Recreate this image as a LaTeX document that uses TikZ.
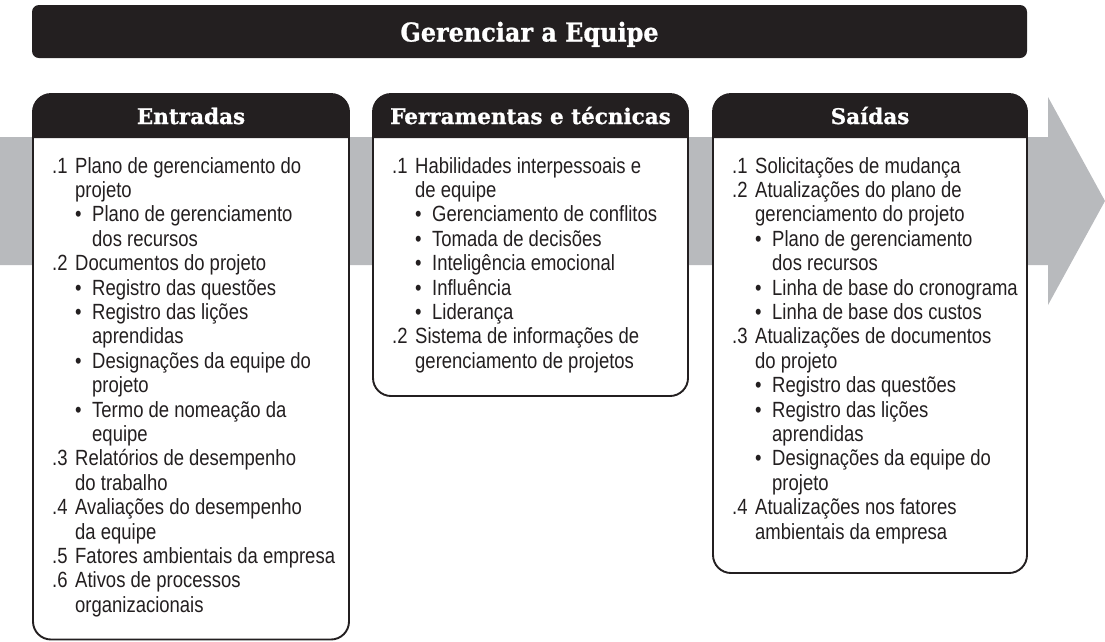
\documentclass[tikz,border=0pt]{standalone}
\usepackage{fontspec}
\setmainfont{Liberation Sans}[FakeStretch=0.84]
\newfontfamily\hdfont{DejaVu Serif}[BoldFeatures={FakeBold=0.9}]
\newfontfamily\ttlfont{DejaVu Serif}[BoldFeatures={FakeBold=0.9, FakeStretch=0.92}]
\definecolor{hdblack}{RGB}{35,31,32}
\definecolor{arrowgray}{RGB}{184,186,189}
\newcommand\numlab[1]{\makebox[23pt][l]{#1}}
\newcommand\bulmark{\makebox[17pt][l]{•}}
\tikzset{
  panel/.style={draw=hdblack, line width=1.9pt, rounded corners=18pt},
  band/.style={fill=hdblack},
  hdtext/.style={anchor=base, inner sep=0pt, text=white, font=\hdfont\bfseries\fontsize{21.5pt}{24pt}\selectfont},
  titletext/.style={anchor=base, inner sep=0pt, text=white, font=\ttlfont\bfseries\fontsize{26pt}{30pt}\selectfont},
  tline/.style={anchor=base west, inner sep=0pt, text=hdblack, font=\fontsize{22pt}{24pt}\selectfont}
}
\begin{document}
\begin{tikzpicture}[x=1pt,y=-1pt]
\useasboundingbox (0,0) rectangle (1105,641);
% gray process arrow
\fill[arrowgray] (0,137) -- (1048,137) -- (1048,97) -- (1105,201) -- (1048,305) -- (1048,265) -- (0,265) -- cycle;
% title bar
\fill[hdblack, rounded corners=7pt] (32,5) rectangle (1027,58);
\node[titletext] (title) at (529.5,41.5) {Gerenciar a Equipe};
% panels
\fill[white, rounded corners=18pt] (33,94) rectangle (349,640);
\fill[white, rounded corners=18pt] (373,94) rectangle (688,396);
\fill[white, rounded corners=18pt] (713,94) rectangle (1027,573);
\fill[band] (33,138) {[rounded corners=18pt] -- (33,94) -- (349,94)} -- (349,138) -- cycle;
\fill[band] (373,138) {[rounded corners=18pt] -- (373,94) -- (688,94)} -- (688,138) -- cycle;
\fill[band] (713,138) {[rounded corners=18pt] -- (713,94) -- (1027,94)} -- (1027,138) -- cycle;
\draw[panel] (33,94) rectangle (349,639.5);
\draw[panel] (373,94) rectangle (688,396);
\draw[panel] (713,94) rectangle (1027,573);
% headers
\node[hdtext] (h1) at (191,124) {Entradas};
\node[hdtext] (h2) at (530.5,124) {Ferramentas e técnicas};
\node[hdtext] (h3) at (870,124) {Saídas};
% Entradas
\foreach [count=\i] \o/\t in {
  19/{\numlab{.1}Plano de gerenciamento do},
  42/{projeto},
  42/{\bulmark Plano de gerenciamento},
  59/{dos recursos},
  19/{\numlab{.2}Documentos do projeto},
  42/{\bulmark Registro das questões},
  42/{\bulmark Registro das lições},
  59/{aprendidas},
  42/{\bulmark Designações da equipe do},
  59/{projeto},
  42/{\bulmark Termo de nomeação da},
  59/{equipe},
  19/{\numlab{.3}Relatórios de desempenho},
  42/{do trabalho},
  19/{\numlab{.4}Avaliações do desempenho},
  42/{da equipe},
  19/{\numlab{.5}Fatores ambientais da empresa},
  19/{\numlab{.6}Ativos de processos},
  42/{organizacionais}}
  \node[tline] (in\i) at (33+\o, 173+24.4*\i-24.4) {\t};
% Ferramentas e tecnicas
\foreach [count=\i] \o/\t in {
  19/{\numlab{.1}Habilidades interpessoais e},
  42/{de equipe},
  42/{\bulmark Gerenciamento de conflitos},
  42/{\bulmark Tomada de decisões},
  42/{\bulmark Inteligência emocional},
  42/{\bulmark Influência},
  42/{\bulmark Liderança},
  19/{\numlab{.2}Sistema de informações de},
  42/{gerenciamento de projetos}}
  \node[tline] (tt\i) at (373+\o, 173+24.4*\i-24.4) {\t};
% Saidas
\foreach [count=\i] \o/\t in {
  19/{\numlab{.1}Solicitações de mudança},
  19/{\numlab{.2}Atualizações do plano de},
  42/{gerenciamento do projeto},
  42/{\bulmark Plano de gerenciamento},
  59/{dos recursos},
  42/{\bulmark Linha de base do cronograma},
  42/{\bulmark Linha de base dos custos},
  19/{\numlab{.3}Atualizações de documentos},
  42/{do projeto},
  42/{\bulmark Registro das questões},
  42/{\bulmark Registro das lições},
  59/{aprendidas},
  42/{\bulmark Designações da equipe do},
  59/{projeto},
  19/{\numlab{.4}Atualizações nos fatores},
  42/{ambientais da empresa}}
  \node[tline] (out\i) at (713+\o, 173+24.4*\i-24.4) {\t};
\end{tikzpicture}
\end{document}
